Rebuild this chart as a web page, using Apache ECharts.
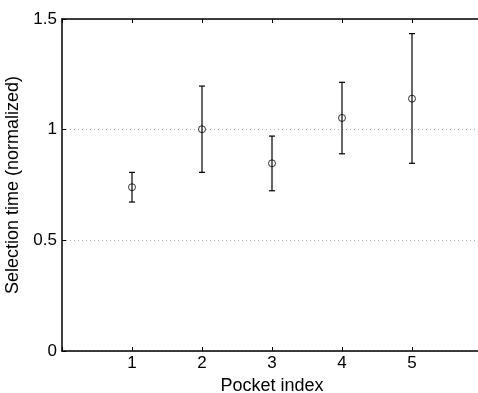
<!DOCTYPE html>
<html>
<head>
<meta charset="utf-8">
<script src="https://cdn.jsdelivr.net/npm/echarts@6/dist/echarts.min.js"></script>
<style>
  html, body { margin: 0; padding: 0; background: #fff; }
  #chart { width: 478px; height: 393px; }
</style>
</head>
<body>
<div id="chart"></div>
<script>
// pocket index and normalized selection time (mean, lower, upper)
const pockets = [1, 2, 3, 4, 5];
const means = [0.740, 1.002, 0.848, 1.053, 1.140];
const lower = [0.673, 0.807, 0.724, 0.891, 0.848];
const upper = [0.807, 1.197, 0.971, 1.214, 1.434];
const yTicks = [0, 0.5, 1, 1.5];

const chart = echarts.init(document.getElementById('chart'));
const font = 'Liberation Sans, Arial, Helvetica, sans-serif';

const barData = pockets.map((p, i) => [p, lower[i], upper[i]]);
const meanData = pockets.map((p, i) => [p, means[i]]);

// 误差棒
function renderErrorBar(params, api) {
  const x = api.value(0);
  const lo = api.coord([x, api.value(1)]);
  const hi = api.coord([x, api.value(2)]);
  const cap = 3;
  const style = { stroke: '#000', lineWidth: 1.2 };
  return {
    type: 'group',
    children: [
      { type: 'line', shape: { x1: lo[0], y1: lo[1], x2: hi[0], y2: hi[1] }, style: style },
      { type: 'line', shape: { x1: lo[0] - cap, y1: lo[1], x2: lo[0] + cap, y2: lo[1] }, style: style },
      { type: 'line', shape: { x1: hi[0] - cap, y1: hi[1], x2: hi[0] + cap, y2: hi[1] }, style: style },
    ],
  };
}

const option = {
  animation: false,
  backgroundColor: '#fff',
  grid: {
    left: 62,
    right: -4,
    top: 19,
    bottom: 42,
    outerBoundsMode: 'none',
    containLabel: false,
  },
  xAxis: [{
    type: 'value',
    min: 0,
    max: 6,
    interval: 1,
    name: 'Pocket index',
    nameLocation: 'middle',
    nameGap: 23,
    nameTextStyle: { color: '#000', fontFamily: font, fontSize: 18 },
    axisLine: { lineStyle: { color: '#000', width: 1.5 } },
    axisTick: { inside: true, length: 4, lineStyle: { color: '#000' } },
    axisLabel: {
      color: '#000', fontFamily: font, fontSize: 17, margin: 4,
      formatter: v => (pockets.indexOf(v) >= 0 ? String(v) : ''),
    },
    splitLine: { show: false },
  }, {
    type: 'value',
    position: 'top',
    min: 0,
    max: 6,
    interval: 1,
    axisLine: { lineStyle: { color: '#000', width: 1.5 } },
    axisTick: { inside: true, length: 4, lineStyle: { color: '#000' } },
    axisLabel: { show: false },
    splitLine: { show: false },
  }],
  yAxis: {
    type: 'value',
    min: 0,
    max: 1.5,
    interval: 0.5,
    name: 'Selection time (normalized)',
    nameLocation: 'middle',
    nameGap: 35,
    nameTextStyle: { color: '#000', fontFamily: font, fontSize: 18 },
    axisLine: { show: true, lineStyle: { color: '#000', width: 1.5 } },
    axisTick: { show: true, inside: true, length: 4, lineStyle: { color: '#000' } },
    axisLabel: {
      color: '#000', fontFamily: font, fontSize: 17, margin: 5,
      formatter: v => (yTicks.indexOf(v) >= 0 ? String(v) : ''),
    },
    splitLine: {
      show: true,
      lineStyle: { color: '#aaa', type: [1, 3], width: 1 },
    },
  },
  series: [{
    type: 'custom',
    renderItem: renderErrorBar,
    data: barData,
    encode: { x: 0, y: [1, 2] },
    z: 3,
  }, {
    type: 'scatter',
    data: meanData,
    symbol: 'circle',
    symbolSize: 7,
    itemStyle: { color: 'rgba(0,0,0,0)', borderColor: '#000', borderWidth: 1 },
    z: 4,
  }],
};

chart.setOption(option);
</script>
</body>
</html>
